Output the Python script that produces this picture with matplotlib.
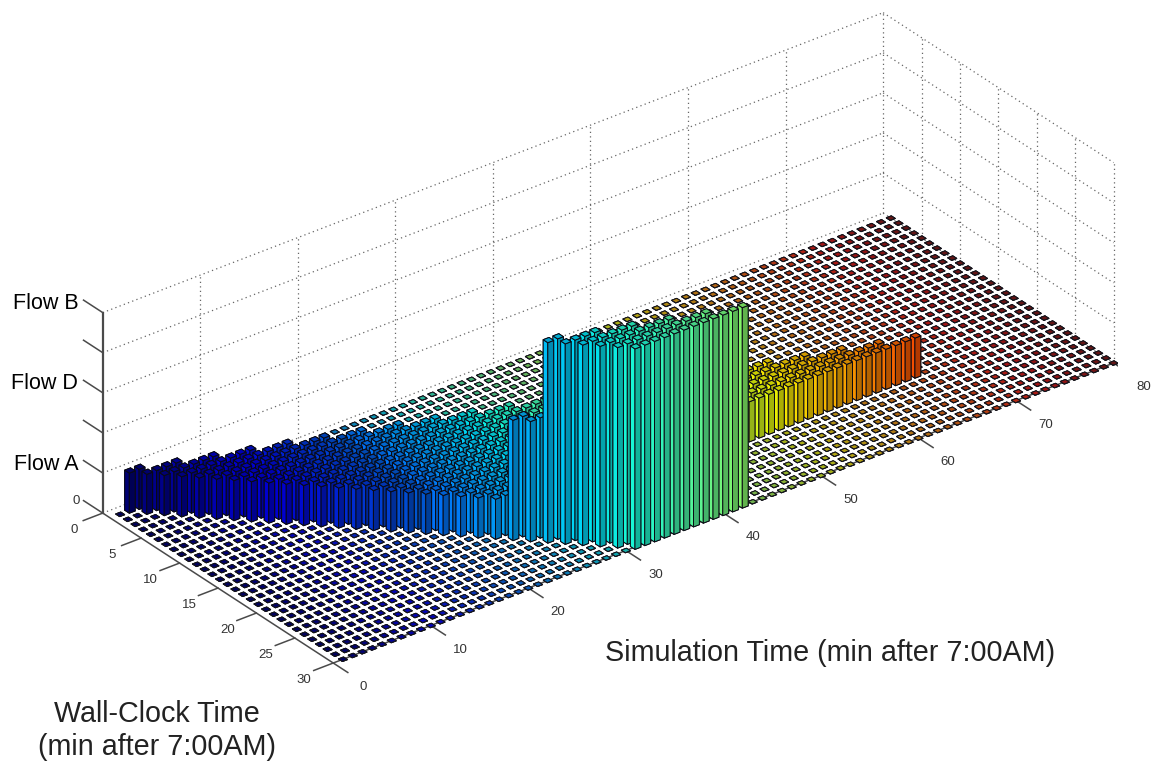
import numpy as np
import matplotlib
matplotlib.use('Agg')
import matplotlib.pyplot as plt

plt.rcParams['font.family'] = ['Liberation Sans', 'DejaVu Sans']

# flow levels on the vertical axis
flow_ticks = [0, 1, 2, 3, 4, 5]
flow_labels = ['0', 'Flow A', '', 'Flow D', '', 'Flow B']

sim_ticks = [0, 10, 20, 30, 40, 50, 60, 70, 80]
wall_ticks = [0, 5, 10, 15, 20, 25, 30]

# one entry per wall-clock minute: first and last simulated minute with flow, and the flow
wall_clock = [1, 2, 3, 4, 5, 6, 7, 8, 9, 10, 11, 12, 13, 14, 15,
              16, 17, 18, 19, 20, 21, 22, 23, 24, 25, 26, 27, 28, 29, 30]
first_sim = [2, 3, 4, 5, 6, 7, 8, 9, 10, 11, 12, 13, 14, 15, 16,
             17, 18, 19, 20, 21, 22, 23, 24, 25, 26, 27, 28, 29, 30, 31]
last_sim = [3, 6, 9, 12, 15, 18, 21, 24, 27, 30, 33, 36, 39, 42, 45,
            48, 51, 54, 57, 60, 63, 66, 25, 26, 27, 30, 33, 36, 39, 42]
flow_level = [1, 1, 1, 1, 1, 1, 1, 1, 1, 1, 1, 1, 1, 1, 1,
              1, 1, 1, 1, 1, 1, 1, 3, 3, 5, 5, 5, 5, 5, 5]

sim_max = 80
wall_max = 30
bar_w = 0.6
floor_w = 0.52

fig = plt.figure(figsize=(11.55, 7.65), dpi=100)
side = 1048  # px
cx, cy = 594, 352  # where the middle of the axes goes, px from top left
ax = fig.add_axes([(cx - side / 2) / 1155, (765 - cy - side / 2) / 765, side / 1155, side / 765],
                  projection='3d', computed_zorder=False)
ax.set_proj_type('ortho')
ax.view_init(elev=30, azim=232.45)
ax.set_box_aspect((986.4, 379, 232))
ax.set_xticks([])
ax.set_yticks([])
ax.set_zticks([])
ax.set_axis_off()

cmap = plt.get_cmap('jet')


def dim(c, k):
    return (c[0] * k, c[1] * k, c[2] * k, 1)


def floor_color(s):
    # washed out in the middle of the range, dark navy at the blue end
    c = dim(cmap((s - 1) / (sim_max - 1)), 0.72)
    m = min(1, s / 40) * 0.15
    return (c[0] * (1 - m) + m * 0.55, c[1] * (1 - m) + m * 0.55, c[2] * (1 - m) + m * 0.55, 1)


def face_colors(s):
    # -z, +z, -y, +y, -x, +x : left side bright, front side dimmer, top in between
    c = cmap((s - 1) / (sim_max - 1))
    if s < 20:
        c = dim(c, 0.85)  # the blue end looks darker in the picture
    return [dim(c, 0.6), dim(c, 0.82), dim(c, 0.6), dim(c, 0.7), dim(c, 0.96), dim(c, 0.6)]


# heights per (sim, wall) cell
heights = {}
for w, a, b, f in zip(wall_clock, first_sim, last_sim, flow_level):
    for s in range(a, b + 1):
        heights[(s, w)] = f

# the empty cells are just flat squares on the floor
sx, sy, sc = [], [], []
for s in range(1, sim_max + 1):
    for w in wall_clock:
        if (s, w) not in heights:
            sx.append(s - floor_w / 2)
            sy.append(w - floor_w / 2)
            sc.append(floor_color(s))
ax.bar3d(sx, sy, np.zeros(len(sx)), floor_w, floor_w, 0, color=sc, shade=False,
         edgecolor='#14141c', linewidth=0.7, zorder=3)

# real bars, far ones first
z = 4
for s in range(sim_max, 0, -1):
    for w in wall_clock:
        if (s, w) in heights:
            ax.bar3d(s - bar_w / 2, w - bar_w / 2, 0, bar_w, bar_w, heights[(s, w)],
                     color=face_colors(s), shade=False,
                     edgecolor='#0a0a14', linewidth=0.7, zorder=z)
            z += 1

# dotted walls
dot = dict(color='#666666', linestyle=(0, (1, 2.6)), linewidth=0.9, zorder=1)
for t in sim_ticks[1:]:
    ax.plot([t, t], [0, 0], [0, 5], **dot)
for t in wall_ticks[1:]:
    ax.plot([80, 80], [t, t], [0, 5], **dot)
for f in flow_ticks:
    ax.plot([0, 80], [0, 0], [f, f], **dot)
    ax.plot([80, 80], [0, 30], [f, f], **dot)

# axis lines and ticks
solid = dict(color='#4a4a4a', linewidth=1.1, zorder=2)
ax.plot([0, 80], [30, 30], [0, 0], **solid)
ax.plot([0, 0], [0, 30], [0, 0], **solid)
ax.plot([0, 0], [0, 0], [0, 5], color='#4a4a4a', linewidth=1.6, zorder=2)

tick_font = dict(fontsize=9.5, color='#333333', ha='center', va='center')
for t in sim_ticks:
    ax.plot([t, t], [30, 31.9], [0, 0], **solid)
    ax.text(t - 0.5, 34.5, 0, str(t), zorder=5000, **tick_font)
for t in wall_ticks:
    ax.plot([0, -2], [t, t], [0, 0], **solid)
    ax.text(-3.55, t + 0.74, 0, str(t), zorder=5000, **tick_font)
for f, lab in zip(flow_ticks, flow_labels):
    ax.plot([0, 0], [0, -2.5], [f, f], **solid)
    if lab == '0':
        ax.text(-0.5, -2.8, f, lab, zorder=5000, **tick_font)
    elif lab:
        ax.text(-0.7, -2.3, f, lab, zorder=5000, fontsize=15.5, color='black', ha='right', va='center')

ax.set_xlim(0, sim_max)
ax.set_ylim(wall_max, 0)
ax.set_zlim(0, 5)

fig.text(830.5 / 1155, 1 - 653 / 765, 'Simulation Time (min after 7:00AM)', fontsize=20.7,
         color='#222222', ha='center', va='center')
fig.text(157 / 1155, 1 - 730.5 / 765, 'Wall-Clock Time\n(min after 7:00AM)', fontsize=20.7,
         color='#222222', ha='center', va='center', linespacing=1.25)

fig.savefig('out.png', dpi=100)
